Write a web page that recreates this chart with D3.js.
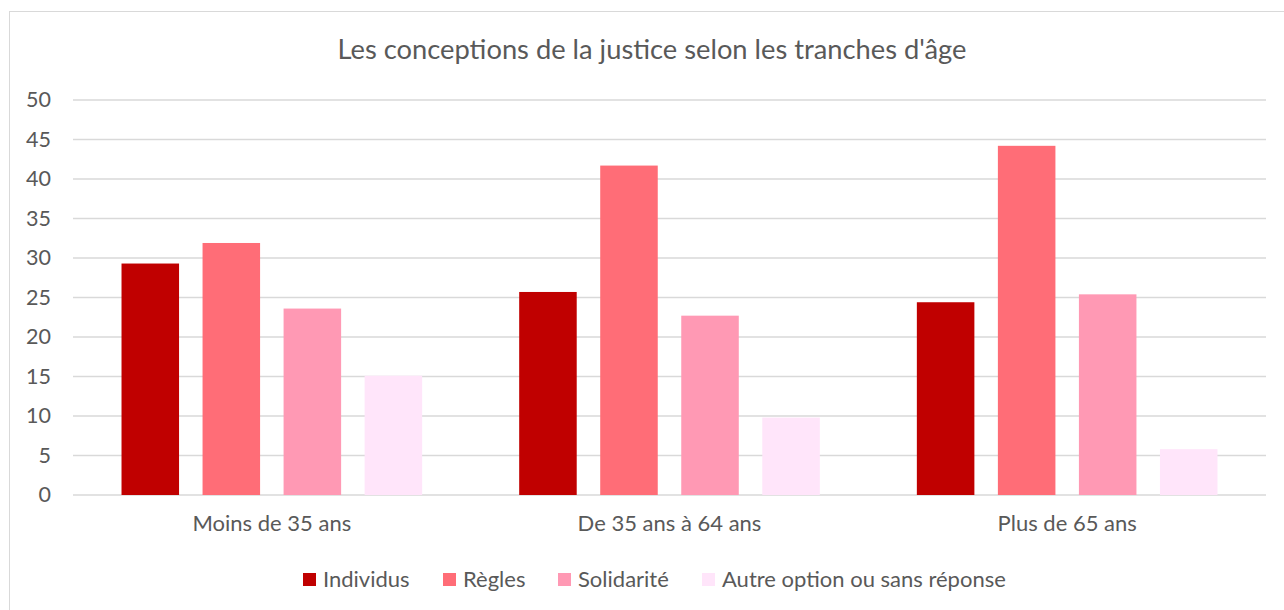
<!DOCTYPE html>
<html>
<head>
<meta charset="utf-8">
<script src="https://cdn.jsdelivr.net/npm/d3@7"></script>
<style>
  body { margin: 0; background: #fff; }
  svg text { font-family: Lato, 'Open Sans', sans-serif; fill: #595959; }
</style>
</head>
<body>
<div id="chart"></div>
<script>
var categories = ['Moins de 35 ans', 'De 35 ans à 64 ans', 'Plus de 65 ans']
var seriesNames = ['Individus', 'Règles', 'Solidarité', 'Autre option ou sans réponse']
var individus = [29.3, 25.7, 24.4]
var regles = [31.9, 41.7, 44.2]
var solidarite = [23.6, 22.7, 25.4]
var autre = [15.1, 9.8, 5.8]
var yTicks = [0, 5, 10, 15, 20, 25, 30, 35, 40, 45, 50]
var colors = ['#c00000', '#ff6d77', '#ff99b4', '#ffe5fa']

var seriesValues = [individus, regles, solidarite, autre]

var cfg = {
  WIDTH: 1284,
  HEIGHT: 610,
  margin: { top: 100, left: 73, bottom: 115, right: 18 }
}
cfg.effectiveWidth = cfg.WIDTH - cfg.margin.left - cfg.margin.right
cfg.effectiveHeight = cfg.HEIGHT - cfg.margin.top - cfg.margin.bottom

function translate(x, y) {
  return 'translate(' + x + ',' + y + ')'
}

var svg = d3.select('#chart').append('svg')
  .attr('width', cfg.WIDTH)
  .attr('height', cfg.HEIGHT)

// chart area border (only top/left edges visible in the crop)
svg.append('rect')
  .attr('x', 9.5).attr('y', 11.5)
  .attr('width', cfg.WIDTH + 20).attr('height', cfg.HEIGHT + 20)
  .attr('fill', '#fff')
  .attr('stroke', '#d9d9d9')

svg.append('text')
  .attr('x', 652)
  .attr('y', 59)
  .attr('text-anchor', 'middle')
  .style('font-size', '27.3px')
  .text("Les conceptions de la justice selon les tranches d'âge")

var x0 = d3.scaleBand()
  .domain(categories)
  .range([0, cfg.effectiveWidth])

var groupPad = x0.bandwidth() * 0.122
var x1 = d3.scaleBand()
  .domain(seriesNames)
  .range([groupPad, x0.bandwidth() - groupPad])
  .paddingInner(0.29)

var y = d3.scaleLinear()
  .domain([0, 50])
  .range([cfg.effectiveHeight, 0])

var g = svg.append('g')
  .attr('transform', translate(cfg.margin.left, cfg.margin.top))

// gridlines
g.selectAll('line.grid')
  .data(yTicks)
  .enter()
  .append('line')
  .attr('class', 'grid')
  .attr('x1', 0)
  .attr('x2', cfg.effectiveWidth)
  .attr('y1', function(d) { return y(d) })
  .attr('y2', function(d) { return y(d) })
  .attr('stroke', '#d9d9d9')
  .attr('stroke-width', 1.3)

var yAxis = d3.axisLeft(y).tickValues(yTicks).tickSize(0).tickPadding(22)
g.append('g')
  .call(yAxis)
  .call(function(a) { a.select('.domain').remove() })
  .selectAll('text')
  .style('font-size', '21.5px')
  .attr('fill', '#595959')

var xAxis = d3.axisBottom(x0).tickSize(0).tickPadding(20)
g.append('g')
  .attr('transform', translate(0, cfg.effectiveHeight))
  .call(xAxis)
  .call(function(a) { a.select('.domain').remove() })
  .selectAll('text')
  .style('font-size', '22px')
  .attr('fill', '#595959')

var groups = g.selectAll('g.cat')
  .data(categories)
  .enter()
  .append('g')
  .attr('class', 'cat')
  .attr('transform', function(d) { return translate(x0(d), 0) })

groups.selectAll('rect')
  .data(function(d, i) {
    return seriesNames.map(function(s, j) {
      return { series: s, value: seriesValues[j][i], color: colors[j] }
    })
  })
  .enter()
  .append('rect')
  .attr('x', function(d) { return x1(d.series) })
  .attr('width', x1.bandwidth())
  .attr('y', function(d) { return y(d.value) })
  .attr('height', function(d) { return cfg.effectiveHeight - y(d.value) })
  .attr('fill', function(d) { return d.color })

// legend
var legendX = [303, 443, 558, 702]
var legend = svg.selectAll('g.legend')
  .data(seriesNames)
  .enter()
  .append('g')
  .attr('class', 'legend')
  .attr('transform', function(d, i) { return translate(legendX[i], 573) })

legend.append('rect')
  .attr('width', 13)
  .attr('height', 13)
  .attr('fill', function(d, i) { return colors[i] })

legend.append('text')
  .attr('x', 20)
  .attr('y', 14)
  .style('font-size', '22px')
  .text(function(d) { return d })
</script>
</body>
</html>
